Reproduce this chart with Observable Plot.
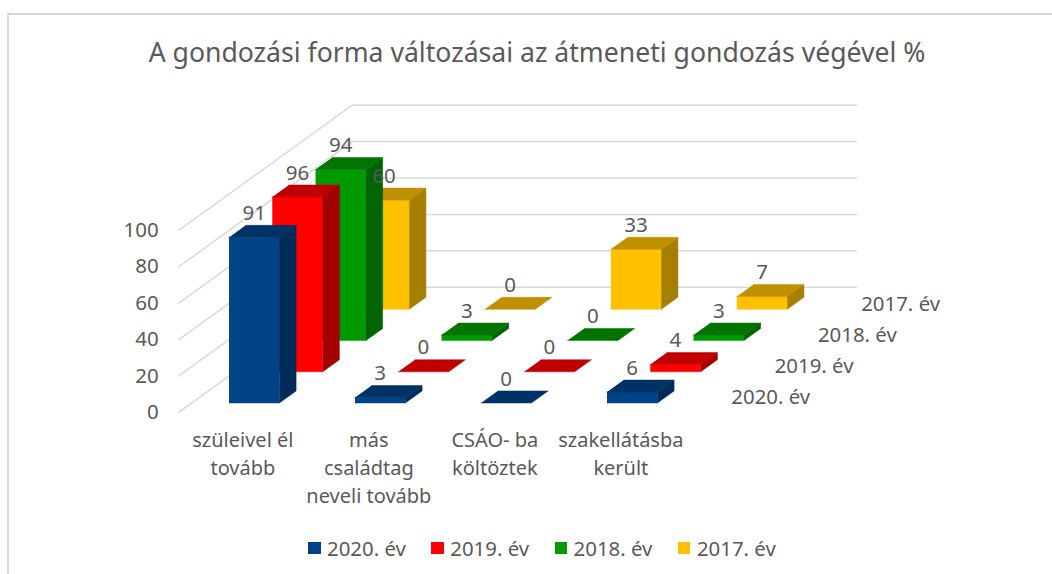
<!DOCTYPE html>
<html lang="hu">
<head>
<meta charset="utf-8">
<script src="https://cdn.jsdelivr.net/npm/d3@7"></script>
<script src="https://cdn.jsdelivr.net/npm/@observablehq/plot@0.6"></script>
<style>
  html, body { margin: 0; padding: 0; background: #fff; overflow: hidden; }
  #page { position: relative; width: 1052px; height: 574px; overflow: hidden; font-family: "Noto Sans", sans-serif; color: #595959; }
  #frame { position: absolute; left: 7px; top: 13px; width: 1100px; height: 700px; border: 2px solid #d9d9d9; box-sizing: border-box; }
  #title { position: relative; height: 85px; box-sizing: border-box; padding-top: 34px; text-align: center; font-size: 26.6px; line-height: 36px; white-space: nowrap; width: 1074px; }
  #chart { position: relative; height: 440px; }
  #chart svg { display: block; }
  #legend { position: relative; height: 49px; font-size: 20.4px; line-height: 28px; }
  .item { position: absolute; top: 9px; display: flex; align-items: center; white-space: nowrap; }
  .swatch { width: 12.5px; height: 12.5px; margin-right: 6.5px; }
</style>
</head>
<body>
<div id="page">
  <div id="frame"></div>
  <div id="title"></div>
  <div id="chart"></div>
  <div id="legend"></div>
</div>
<script>
const titleText = "A gondozási forma változásai az átmeneti gondozás végével %";
const categories = ["szüleivel él\ntovább", "más\ncsaládtag\nneveli tovább", "CSÁO- ba\nköltöztek", "szakellátásba\nkerült"];
const seriesNames = ["2020. év", "2019. év", "2018. év", "2017. év"];
const values2020 = [91, 3, 0, 6];
const values2019 = [96, 0, 0, 4];
const values2018 = [94, 3, 0, 3];
const values2017 = [60, 0, 33, 7];
const ticks = [0, 20, 40, 60, 80, 100];
const frontColors = ["#004386", "#ff0000", "#009a00", "#ffc000"];
const topColors = ["#003266", "#c00000", "#007300", "#c09000"];
const sideColors = ["#002c59", "#a30000", "#006400", "#a67e00"];

const allValues = [values2020, values2019, values2018, values2017];

// Oblique projection: category position c, depth d (series units), value v
const depthX = 0.3435;   // category units per series step
const depthY = 17.15;    // value units per series step
const barW = 0.4;
const barD = 0.386;
const px = (c, d) => c + d * depthX;
const py = (v, d) => v + d * depthY;

const wallC = -0.296, wallD0 = -0.3, wallD1 = 3.71;

const grid = ticks.flatMap(t => [
  {id: t, x: px(wallC, wallD0), y: py(t, wallD0)},
  {id: t, x: px(wallC, wallD1), y: py(t, wallD1)},
  {id: t, x: px(wallC, wallD1) + 4, y: py(t, wallD1)}
]);

const faces = [];
function face(id, color, pts) { pts.forEach(([c, d, v]) => faces.push({id, color, x: px(c, d), y: py(v, d)})); }
for (let s = 3; s >= 0; --s) {
  allValues[s].forEach((v, c) => {
    const k = `${s}-${c}-`;
    if (v > 0) {
      face(k + "front", frontColors[s], [[c, s, 0], [c + barW, s, 0], [c + barW, s, v], [c, s, v]]);
      face(k + "side", sideColors[s], [[c + barW, s, 0], [c + barW, s + barD, 0], [c + barW, s + barD, v], [c + barW, s, v]]);
    }
    face(k + "top", topColors[s], [[c, s, v], [c + barW, s, v], [c + barW, s + barD, v], [c, s + barD, v]]);
  });
}

const barLabels = allValues.flatMap((vals, s) => vals.map((v, c) => ({v, x: px(c + barW / 2, s), y: py(v, s)})));
const tickLabels = ticks.map(t => ({t, x: px(wallC, wallD0), y: py(t, wallD0)}));
const catLabels = categories.map((t, c) => ({t, x: c + 0.11, y: -13.5}));
const seriesLabels = seriesNames.map((t, s) => ({t, x: px(4.3, s), y: py(2.86, s)}));

const font = {fill: "#595959", stroke: null};

document.getElementById("title").textContent = titleText;

const plot = Plot.plot({
  width: 1052,
  height: 440,
  margin: 0,
  style: {fontFamily: '"Noto Sans", sans-serif', background: "transparent", overflow: "visible"},
  x: {domain: [-228.5 / 126, (1052 - 228.5) / 126], range: [0, 1052], axis: null},
  y: {domain: [-122.5 / 1.82, 317.5 / 1.82], range: [440, 0], axis: null},
  color: {type: "identity"},
  marks: [
    Plot.line(grid, {x: "x", y: "y", z: "id", stroke: "#d9d9d9", strokeWidth: 1.5, curve: "linear"}),
    Plot.line(faces, {x: "x", y: "y", z: "id", fill: "color", stroke: "color", strokeWidth: 0.5, curve: "linear"}),
    Plot.text(tickLabels, {x: "x", y: "y", text: d => String(d.t), textAnchor: "end", dx: -20, fontSize: 20.5, ...font}),
    Plot.text(barLabels, {x: "x", y: "y", text: d => String(d.v), dy: -24, fontSize: 20.5, ...font}),
    Plot.text(catLabels, {x: "x", y: "y", text: "t", lineAnchor: "top", lineHeight: 1.385, fontSize: 20, ...font}),
    Plot.text(seriesLabels, {x: "x", y: "y", text: "t", fontSize: 20.4, ...font})
  ]
});
document.getElementById("chart").appendChild(plot);

const legend = document.getElementById("legend");
seriesNames.forEach((name, s) => {
  const item = document.createElement("div");
  item.className = "item";
  item.style.left = (308 + s * 123.3) + "px";
  const sw = document.createElement("span");
  sw.className = "swatch";
  sw.style.background = frontColors[s];
  const tx = document.createElement("span");
  tx.textContent = name;
  item.append(sw, tx);
  legend.appendChild(item);
});
</script>
</body>
</html>
